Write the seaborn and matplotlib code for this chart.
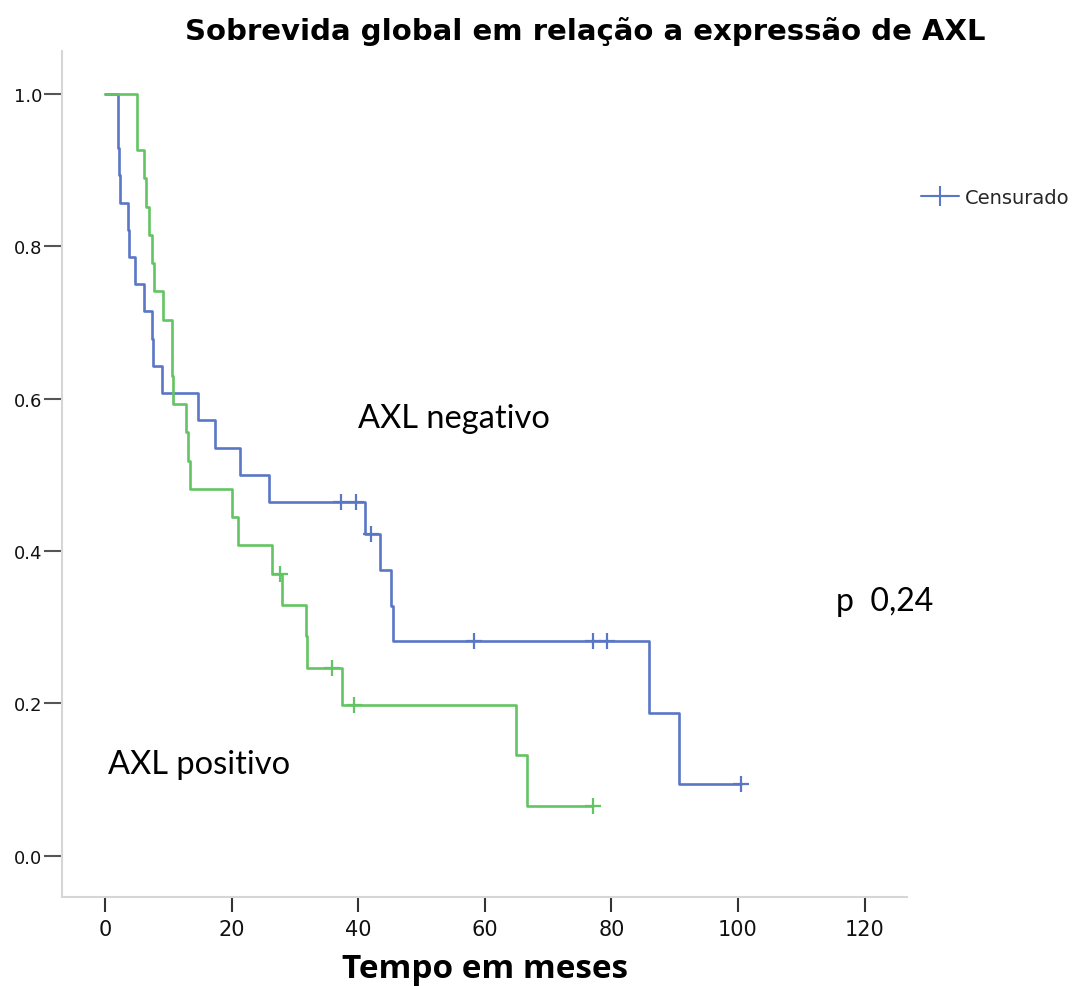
import matplotlib
matplotlib.use("Agg")
import matplotlib.pyplot as plt
import numpy as np
import pandas as pd
import seaborn as sns
from matplotlib.lines import Line2D

# tempo (meses) e evento (1 = obito, 0 = censurado)
neg_times = [2.0, 2.1, 2.2, 2.3, 3.7, 3.8, 4.8, 6.2, 7.4, 7.6, 9.0, 14.7, 17.3, 21.3, 25.9,
             37.2, 39.6, 41.1, 42.0, 43.5, 45.2, 45.5, 58.3, 77.1, 79.3, 85.9, 90.7, 100.5]
neg_events = [1, 1, 1, 1, 1, 1, 1, 1, 1, 1, 1, 1, 1, 1, 1,
              0, 0, 1, 0, 1, 1, 1, 0, 0, 0, 1, 1, 0]

pos_times = [5.0, 5.1, 6.2, 6.5, 7.0, 7.4, 7.8, 9.2, 10.5, 10.6, 10.8, 12.75, 13.1, 13.4,
             20.0, 21.0, 26.4, 27.7, 27.9, 31.7, 31.9, 35.9, 37.4, 39.3, 65.0, 66.7, 77.1]
pos_events = [1, 1, 1, 1, 1, 1, 1, 1, 1, 1, 1, 1, 1, 1,
              1, 1, 1, 0, 1, 1, 1, 0, 1, 0, 1, 1, 0]

x_ticks = [0, 20, 40, 60, 80, 100, 120]
y_ticks = [0.0, 0.2, 0.4, 0.6, 0.8, 1.0]

BLUE = "#5a77c6"
GREEN = "#63c463"


def kaplan_meier(times, events):
    t = np.array(times, dtype=float)
    e = np.array(events, dtype=int)
    step_t, step_s = [0.0], [1.0]
    s = 1.0
    censor_t, censor_s = [], []
    for ut in np.unique(t):
        at_risk = (t >= ut).sum()
        deaths = e[(t == ut)].sum()
        if deaths > 0:
            s *= 1 - deaths / at_risk
            step_t.append(ut)
            step_s.append(s)
        if ((t == ut) & (e == 0)).any():
            censor_t.append(ut)
            censor_s.append(s)
    step_t.append(t.max())
    step_s.append(s)
    curve = pd.DataFrame({"Tempo": step_t, "Sobrevida": step_s})
    censor = pd.DataFrame({"Tempo": censor_t, "Sobrevida": censor_s})
    return curve, censor


def main():
    sns.set_style("white")

    fig = plt.figure(figsize=(10.73, 9.87), dpi=100)
    ax = fig.add_axes([62 / 1073, 1 - 898 / 987, (907 - 62) / 1073, (898 - 52) / 987])

    for times, events, color in [(neg_times, neg_events, BLUE), (pos_times, pos_events, GREEN)]:
        curve, censor = kaplan_meier(times, events)
        sns.lineplot(data=curve, x="Tempo", y="Sobrevida", drawstyle="steps-post", estimator=None,
                     sort=False, color=color, linewidth=1.9, ax=ax)
        sns.scatterplot(data=censor, x="Tempo", y="Sobrevida", marker="+", s=140, linewidth=1.6,
                        color=color, ax=ax, zorder=3)

    ax.set_xlim(-6.8, 126.7)
    ax.set_ylim(-0.054, 1.056)
    ax.set_xticks(x_ticks)
    ax.set_xticklabels([str(v) for v in x_ticks], fontsize=15, family="DejaVu Sans", color="#111111")
    ax.set_yticks(y_ticks)
    ax.set_yticklabels([f"{v:.1f}" for v in y_ticks], fontsize=13, family="DejaVu Sans", color="#111111")
    ax.tick_params(axis="x", bottom=True, length=11, width=1.5, color="#333333", pad=5)
    ax.tick_params(axis="y", left=True, length=13, width=1.5, color="#555555", pad=1)

    for side in ["top", "right"]:
        ax.spines[side].set_visible(False)
    for side in ["left", "bottom"]:
        ax.spines[side].set_color("#d6d6d6")
        ax.spines[side].set_linewidth(1.5)

    ax.set_xlabel("")
    ax.set_ylabel("")

    fig.text(585 / 1073, 1 - 32 / 987, "Sobrevida global em relação a expressão de AXL",
             ha="center", va="center", fontsize=21, fontweight="bold", family="DejaVu Sans",
             color="black")
    fig.text(485 / 1073, 1 - 970 / 987, "Tempo em meses", ha="center", va="center",
             fontsize=24, fontweight="bold", family="Open Sans", color="black")

    ax.text(40, 0.575, "AXL negativo", fontsize=23.5, family="Lato", va="center", color="black")
    ax.text(0.5, 0.12, "AXL positivo", fontsize=23.5, family="Lato", va="center", color="black")
    ax.text(115.5, 0.335, "p  0,24", fontsize=23, family="Lato", va="center", color="black")

    handle = Line2D([], [], color=BLUE, marker="+", markersize=14, markeredgewidth=1.5, linewidth=1.5)
    fig.legend([handle], ["Censurado"], loc="center left", bbox_to_anchor=(903 / 1073, 1 - 198 / 987),
               frameon=False, handlelength=2.0, handletextpad=0.3,
               prop={"family": "DejaVu Sans", "size": 14})

    fig.savefig("out.png", dpi=100)


if __name__ == "__main__":
    main()
